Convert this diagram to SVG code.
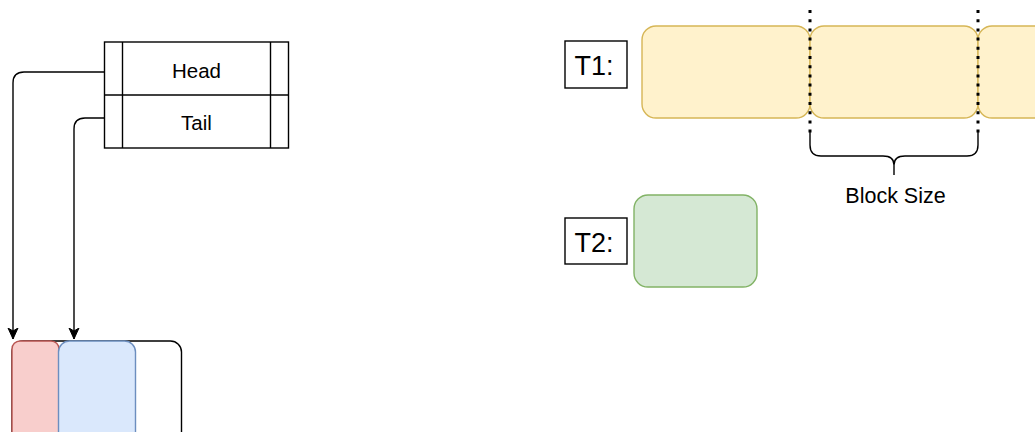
<svg xmlns="http://www.w3.org/2000/svg" width="1035" height="432" viewBox="0 0 1035 432">
  <defs>
    <style>
      .txt { font-family: "Liberation Sans", Arial, sans-serif; fill: #000; text-anchor: middle; }
      .line { fill: none; stroke: #000; stroke-width: 1.4; }
      .yellow { fill: #fff2cc; stroke: #d6b656; stroke-width: 1.4; }
      .green { fill: #d5e8d4; stroke: #82b366; stroke-width: 1.4; }
      .red { fill: #f8cecc; stroke: #b85450; stroke-width: 1.4; }
      .blue { fill: #dae8fc; stroke: #6c8ebf; stroke-width: 1.4; }
      .dots { fill: none; stroke: #000; stroke-width: 3; stroke-dasharray: 3 6.2; }
    </style>
    <marker id="arrow" viewBox="0 0 12 12" refX="11" refY="6" markerWidth="12" markerHeight="12" markerUnits="userSpaceOnUse" orient="auto">
      <path d="M0,1 L11,6 L0,11 L3,6 Z" fill="#000" stroke="#000" stroke-width="1"/>
    </marker>
  </defs>

  <rect width="1035" height="432" fill="#fff"/>

  <!-- queue buffer with head and tail slots -->
  <g id="buffer">
    <rect x="12" y="341" width="169.5" height="110" rx="11" fill="#fff" stroke="#000" stroke-width="1.4"/>
    <rect class="red" x="12" y="341" width="47" height="110" rx="8"/>
    <rect class="blue" x="58.5" y="341" width="77" height="110" rx="11"/>
  </g>

  <!-- pointer table -->
  <g id="pointers">
    <rect x="104.5" y="42" width="184" height="106" fill="#fff" stroke="#000" stroke-width="1.4"/>
    <line class="line" x1="122.5" y1="42" x2="122.5" y2="148"/>
    <line class="line" x1="270.5" y1="42" x2="270.5" y2="148"/>
    <line class="line" x1="104.5" y1="95" x2="288.5" y2="95"/>
    <text class="txt" x="196.5" y="78" font-size="20.5">Head</text>
    <text class="txt" x="196.5" y="130" font-size="20.5">Tail</text>
  </g>

  <!-- connectors -->
  <g id="connectors">
    <path class="line" d="M104.5,72 H24 Q13,72 13,83 V339" marker-end="url(#arrow)"/>
    <path class="line" d="M104.5,118 H85 Q74,118 74,129 V339" marker-end="url(#arrow)"/>
  </g>

  <!-- T1 row of blocks -->
  <g id="t1-label">
    <rect x="565" y="41" width="62" height="47" fill="#fff" stroke="#000" stroke-width="1.4"/>
    <text class="txt" x="594" y="75" font-size="27">T1:</text>
  </g>
  <g id="t1-blocks">
    <rect class="yellow" x="642" y="26" width="168" height="92" rx="14"/>
    <rect class="yellow" x="810" y="26" width="168" height="92" rx="14"/>
    <rect class="yellow" x="978" y="26" width="168" height="92" rx="14"/>
  </g>

  <!-- block boundaries and size brace -->
  <g id="block-size">
    <line class="dots" x1="810" y1="10" x2="810" y2="133"/>
    <line class="dots" x1="978" y1="10" x2="978" y2="133"/>
    <path class="line" d="M810,132 V145 Q810,156 821,156 H883 Q894,156 894,165 V175 M894,165 Q894,156 905,156 H967 Q978,156 978,145 V132"/>
    <text class="txt" x="895.5" y="203" font-size="21.5">Block Size</text>
  </g>

  <!-- T2 block -->
  <g id="t2-label">
    <rect x="565" y="218" width="62" height="46" fill="#fff" stroke="#000" stroke-width="1.4"/>
    <text class="txt" x="594" y="252" font-size="27">T2:</text>
  </g>
  <g id="t2-block">
    <rect class="green" x="634" y="195" width="123" height="92" rx="14"/>
  </g>
</svg>
